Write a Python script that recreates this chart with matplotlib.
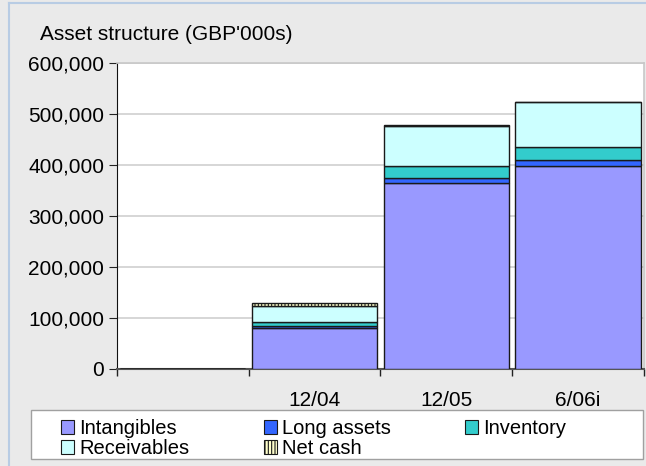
import matplotlib.pyplot as plt
from matplotlib.patches import Rectangle, Patch
from matplotlib.lines import Line2D
import numpy as np

plt.rcParams['font.family'] = ['Liberation Sans', 'DejaVu Sans']
plt.rcParams['hatch.linewidth'] = 0.8

periods = ['', '12/04', '12/05', '6/06i']
intangibles = [0, 81000, 364000, 399000]
long_assets = [0, 3000, 10000, 10000]
inventory = [0, 8000, 23500, 26000]
receivables = [0, 31000, 78000, 89000]
net_cash = [0, 6000, 3000, 0]

series = [
    ('Intangibles', intangibles, '#9999ff', None),
    ('Long assets', long_assets, '#3366ff', None),
    ('Inventory', inventory, '#33cccc', None),
    ('Receivables', receivables, '#ccffff', None),
    ('Net cash', net_cash, '#ffffcc', '|||||'),
]

fs = 15

fig = plt.figure(figsize=(6.46, 4.66), dpi=100, facecolor='#eaeaea')
ax = fig.add_axes([0.1807, 0.2082, 0.8162, 0.6566], facecolor='white')

x = np.arange(len(periods))
base = np.zeros(len(periods))
handles = {}
for name, vals, col, hatch in series:
    vals = np.array(vals, dtype=float)
    ax.bar(x, vals, 0.95, bottom=base, color=col, edgecolor='#1a1a1a',
           linewidth=1.0, hatch=hatch, zorder=3)
    handles[name] = Patch(facecolor=col, edgecolor='#1a1a1a', hatch=hatch,
                          linewidth=0.8)
    base += vals

ax.set_xlim(-0.5, 3.5)
ax.set_ylim(0, 600000)
ax.set_yticks(np.arange(0, 600001, 100000))
ax.set_yticklabels([f'{v:,}' for v in range(0, 600001, 100000)])
ax.yaxis.grid(True, color='#cfcfcf', linewidth=1.2, zorder=0)

# category boundaries get the ticks, labels sit in between
ax.set_xticks(np.arange(-0.5, 4.0, 1.0))
ax.set_xticklabels([])
ax.set_xticks(x, minor=True)
ax.set_xticklabels(periods, minor=True)
ax.tick_params(axis='x', which='minor', length=0, pad=16, labelsize=fs)
ax.tick_params(axis='x', which='major', length=5, direction='out',
               color='#222222', width=1)
ax.tick_params(axis='y', length=6, direction='out', labelsize=fs,
               color='#222222', pad=3)

for side in ('top', 'right'):
    ax.spines[side].set_color('#c8c8c8')
    ax.spines[side].set_linewidth(1.2)
ax.spines['left'].set_color('#111111')
ax.spines['bottom'].set_color('#555555')
ax.spines['bottom'].set_linewidth(1.5)

fig.text(40 / 646, 1 - 35 / 466, "Asset structure (GBP'000s)",
         fontsize=fs, va='center', ha='left')

# legend box
fig.patches.append(Rectangle((31 / 646, 1 - 459 / 466), 612 / 646, 49 / 466,
                             transform=fig.transFigure, facecolor='white',
                             edgecolor='#a0a0a0', linewidth=1.0, zorder=1))
order = ['Intangibles', 'Receivables', 'Long assets', 'Net cash', 'Inventory']
fig.legend([handles[n] for n in order], order, ncol=3, frameon=False,
           loc='upper left', bbox_to_anchor=(59 / 646, 1 - 417 / 466),
           fontsize=14.5, handlelength=0.65, handleheight=0.65,
           handletextpad=0.25, columnspacing=3.7, labelspacing=0.05,
           borderpad=0.1, borderaxespad=0)

# outer frame edges
fig.add_artist(Line2D([9 / 646, 1], [1 - 3 / 466, 1 - 3 / 466],
                      transform=fig.transFigure, color='#b8cce4', linewidth=1.5))
fig.add_artist(Line2D([9 / 646, 9 / 646], [0, 1 - 3 / 466],
                      transform=fig.transFigure, color='#b8cce4', linewidth=1.5))

fig.savefig('out.png', dpi=100, facecolor=fig.get_facecolor())
